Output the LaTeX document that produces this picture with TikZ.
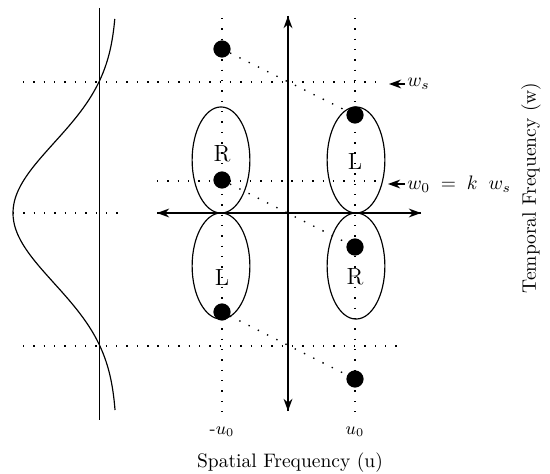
\documentclass[tikz,border=0pt]{standalone}
\usetikzlibrary{positioning,arrows.meta,shapes.geometric}
\tikzset{
  fsponto/.style={circle, fill=black, inner sep=0pt, minimum size=3.1mm},
  fselipse/.style={ellipse, draw, semithick, inner sep=0pt, minimum width=10.4mm, minimum height=19.1mm},
  fsgrade/.style={line width=0.7pt, dash pattern=on 0.7pt off 4.6pt},
  fseixo/.style={semithick},
  fsseta/.style={-{Stealth[length=2.2mm, width=1.6mm]}, semithick},
  fsrotulo/.style={font=\normalsize, inner sep=1pt},
}
\begin{document}
\begin{tikzpicture}[x=0.018cm, y=-0.018cm]
        \useasboundingbox (0,0) rectangle (550,474);
        % grade pontilhada
        \draw[fsgrade] (222,18) -- (222,412);
        \draw[fsgrade] (355,18) -- (355,412);
        \draw[fsgrade] (23,82) -- (380,82);
        \draw[fsgrade] (157,181) -- (384,181);
        \draw[fsgrade] (23,346) -- (405,346);
        \draw[fsgrade] (13,213) -- (120,213);
        % gaussiana
        \draw[thin] (99,8) -- (99,420);
        \draw[semithick] plot[domain=19:410, samples=90, smooth] ({117-104*exp(-0.5*((\x-213)/70)^2)}, \x);
        % eixos
        \coordinate (eixoesq) at (157,213);
        \coordinate (eixodir) at (421,213);
        \coordinate (eixotopo) at (288,16);
        \coordinate (eixobase) at (288,411);
        \draw[fsseta] (eixodir) -- (eixoesq);
        \draw[fsseta] (eixoesq) -- (eixodir);
        \draw[fsseta] (eixobase) -- (eixotopo);
        \draw[fsseta] (eixotopo) -- (eixobase);
        % elipses
        \node[fselipse] (elR1) at (221,160) {};
        \node[fselipse] (elL1) at (221,266) {};
        \node[fselipse] (elL2) at (356,160) {};
        \node[fselipse] (elR2) at (356,266) {};
        \node[fsrotulo, font=\large] (tR1) at (222,154) {R};
        \node[fsrotulo, font=\large] (tL1) at (222,278) {L};
        \node[fsrotulo, font=\large] (tL2) at (355,162) {L};
        \node[fsrotulo, font=\large] (tR2) at (355,277) {R};
        % pontos
        \node[fsponto] (pa1) at (222,49) {};
        \node[fsponto] (pa2) at (222,180) {};
        \node[fsponto] (pa3) at (222,312) {};
        \node[fsponto] (pb1) at (355,115) {};
        \node[fsponto] (pb2) at (355,247) {};
        \node[fsponto] (pb3) at (355,379) {};
        \draw[fsgrade] (pa1) -- (pb1);
        \draw[fsgrade] (pa2) -- (pb2);
        \draw[fsgrade] (pa3) -- (pb3);
        % rotulos
        \node[fsrotulo, anchor=west] (lws) at (405,84) {$w_s$};
        \draw[fsseta] (lws.west) -- ++(-16,0);
        \node[fsrotulo, anchor=west] (lw0) at (405,184) {$w_0\;=\;k\;\;w_s$};
        \draw[fsseta] (lw0.west) -- ++(-17,0);
        \node[fsrotulo, font=\small] (lu1) at (222,432) {-$u_0$};
        \node[fsrotulo, font=\small] (lu2) at (355,432) {$u_0$};
        \node[fsrotulo] (lspat) at (290,463) {Spatial Frequency (u)};
        \node[fsrotulo, rotate=90] (ltemp) at (531,188) {Temporal Frequency (w)};
    \end{tikzpicture}
\end{document}
